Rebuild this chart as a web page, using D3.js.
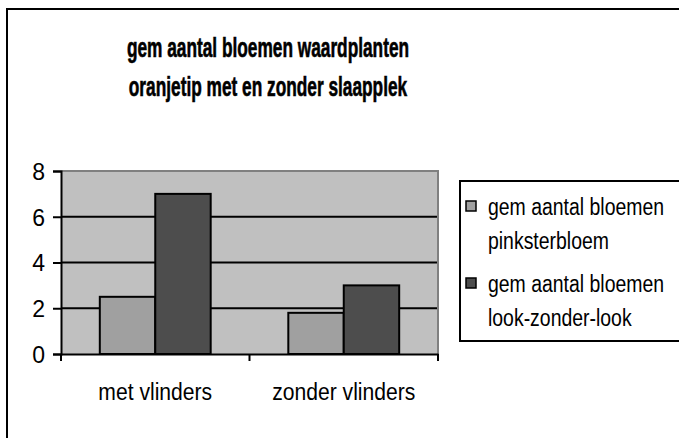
<!DOCTYPE html>
<html>
<head>
  <style>
    body { margin: 0; padding: 0; background: #fff; }
    svg text { font-family: "Liberation Sans", Arial, sans-serif; fill: #000; }
  </style>
</head>
<body>
  <svg id="chart" width="679" height="438"></svg>
  <script src="https://d3js.org/d3.v7.min.js"></script>
  <script>
    var categories = ["met vlinders", "zonder vlinders"];
    var seriesNames = ["gem aantal bloemen pinksterbloem", "gem aantal bloemen look-zonder-look"];
    var pinksterbloem = [2.5, 1.8];
    var lookZonderLook = [7.0, 3.0];
    var yTicks = [0, 2, 4, 6, 8];
    var titleLines = ["gem aantal bloemen waardplanten", "oranjetip met en zonder slaapplek"];
    var legendLines = [["gem aantal bloemen", "pinksterbloem"], ["gem aantal bloemen", "look-zonder-look"]];

    var colors = ["#a0a0a0", "#4d4d4d"];
    var svg = d3.select("#chart");

    // the original text is narrow: scale it horizontally around its own x
    function squeeze(sel, factor) {
      sel.each(function () {
        var x = +(this.getAttribute("x") || 0);
        d3.select(this).attr("transform", "translate(" + (x * (1 - factor)) + ",0) scale(" + factor + ",1)");
      });
    }

    // outer chart frame (right and bottom edges fall off the picture)
    svg.append("rect")
      .attr("x", 7).attr("y", 9)
      .attr("width", 700).attr("height", 460)
      .attr("fill", "#fff").attr("stroke", "#000").attr("stroke-width", 2);

    var plot = { left: 61, right: 438, top: 171, bottom: 354 };

    var x0 = d3.scaleBand().domain(categories).range([plot.left, plot.right]);
    var x1 = d3.scaleBand().domain([0, 1]).range([0, x0.bandwidth()]).paddingOuter(0.7);
    var y = d3.scaleLinear().domain([0, 8]).range([plot.bottom, plot.top]);

    // plot background
    svg.append("rect")
      .attr("x", plot.left).attr("y", plot.top)
      .attr("width", plot.right - plot.left).attr("height", plot.bottom - plot.top)
      .attr("fill", "#c0c0c0");

    // gridlines
    svg.append("g").selectAll("line")
      .data(yTicks.filter(function (d) { return d > 0 && d < 8; }))
      .enter().append("line")
      .attr("x1", plot.left).attr("x2", plot.right)
      .attr("y1", function (d) { return y(d); }).attr("y2", function (d) { return y(d); })
      .attr("stroke", "#000").attr("stroke-width", 2);

    // plot frame top/right
    svg.append("path")
      .attr("d", "M" + plot.left + "," + plot.top + "H" + plot.right + "V" + plot.bottom)
      .attr("fill", "none").attr("stroke", "#808080").attr("stroke-width", 2);

    // bars
    var data = categories.map(function (c, i) { return { cat: c, vals: [pinksterbloem[i], lookZonderLook[i]] }; });
    var groups = svg.append("g").selectAll("g")
      .data(data).enter().append("g")
      .attr("transform", function (d) { return "translate(" + x0(d.cat) + ",0)"; });
    groups.selectAll("rect")
      .data(function (d) { return d.vals; })
      .enter().append("rect")
      .attr("x", function (d, i) { return x1(i); })
      .attr("y", function (d) { return y(d); })
      .attr("width", x1.bandwidth())
      .attr("height", function (d) { return y(0) - y(d); })
      .attr("fill", function (d, i) { return colors[i]; })
      .attr("stroke", "#000").attr("stroke-width", 2);

    // y axis
    var yAxis = svg.append("g")
      .attr("transform", "translate(" + plot.left + ",0)")
      .call(d3.axisLeft(y).tickValues(yTicks).tickSize(8).tickPadding(8));
    yAxis.attr("font-family", null).attr("font-size", null);
    yAxis.select(".domain").attr("stroke", "#000").attr("stroke-width", 2);
    yAxis.selectAll(".tick line").attr("stroke", "#000").attr("stroke-width", 2);
    yAxis.selectAll("text").attr("font-size", 23).attr("dy", "0.36em");

    // x axis
    var xAxis = svg.append("g")
      .attr("transform", "translate(0," + plot.bottom + ")")
      .call(d3.axisBottom(x0).tickSize(0).tickPadding(0));
    xAxis.attr("font-family", null).attr("font-size", null);
    xAxis.select(".domain").attr("stroke", "#000").attr("stroke-width", 2);
    xAxis.selectAll("text").attr("font-size", 24).attr("y", 46).attr("dy", null).call(squeeze, 0.88);
    // category separators
    xAxis.append("g").selectAll("line")
      .data(categories.map(function (c) { return x0(c); }).concat([plot.right]))
      .enter().append("line")
      .attr("x1", function (d) { return d; }).attr("x2", function (d) { return d; })
      .attr("y1", 0).attr("y2", 7)
      .attr("stroke", "#000").attr("stroke-width", 2);

    // title
    svg.append("g").selectAll("text").data(titleLines).enter().append("text")
      .attr("x", 268).attr("y", function (d, i) { return 57 + i * 39; })
      .attr("text-anchor", "middle")
      .attr("font-size", 27).attr("font-weight", "bold")
      .attr("stroke", "#000").attr("stroke-width", 0.6)
      .text(function (d) { return d; })
      .call(squeeze, 0.64);

    // legend
    var legend = svg.append("g");
    legend.append("rect")
      .attr("x", 460).attr("y", 181).attr("width", 240).attr("height", 160)
      .attr("fill", "#fff").attr("stroke", "#000").attr("stroke-width", 2);
    var items = legend.selectAll("g.item").data(seriesNames).enter().append("g")
      .attr("transform", function (d, i) { return "translate(0," + (i * 77) + ")"; });
    items.append("rect")
      .attr("x", 466).attr("y", 201).attr("width", 10).attr("height", 10)
      .attr("fill", function (d, i) { return colors[i]; })
      .attr("stroke", "#000").attr("stroke-width", 1.5);
    items.selectAll("text").data(function (d, i) { return legendLines[i]; })
      .enter().append("text")
      .attr("font-size", 24)
      .attr("x", 488).attr("y", function (d, j) { return 215 + j * 34; })
      .text(function (d) { return d; })
      .call(squeeze, 0.81);
  </script>
</body>
</html>
